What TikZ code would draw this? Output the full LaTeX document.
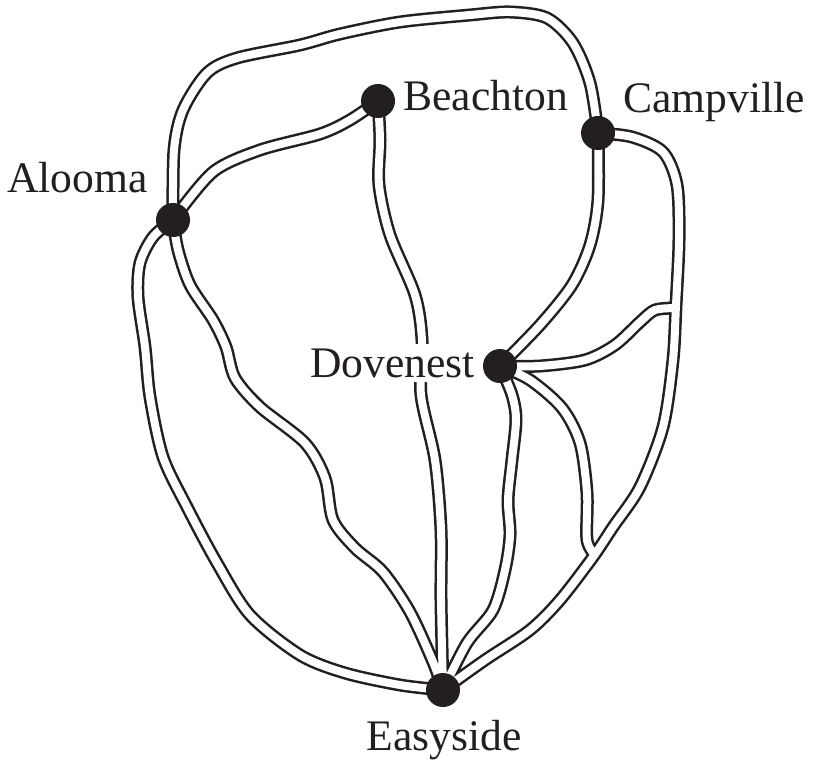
\documentclass[tikz,border=0pt]{standalone}
\usepackage{fontspec}
\setmainfont{Liberation Serif}
\usetikzlibrary{positioning}
\definecolor{ink}{HTML}{231F20}

\newcommand{\roadnet}{%
plot[smooth] coordinates {(alooma) (213,172) (260,150) (320,134) (350,120) (beachton)}
plot[smooth] coordinates {(alooma) (174,150) (183,110) (207,73) (237,58) (300,45) (340,34) (400,22) (470,15) (510,12) (547,18) (573,43) (590,83) (campville)}
plot[smooth] coordinates {(beachton) (380,140) (379,185) (390,235) (415,295) (422,340) (421,395) (435,460) (441,530) (441,600) (easyside)}
plot[smooth] coordinates {(campville) (598,200) (590,245) (572,285) (540,325) (dovenest)}
plot[smooth] coordinates {(campville) (632,137) (663,152) (677,185) (679,240) (676,305) (673,360) (663,427) (640,487) (613,527) (593,557) (560,600) (530,630) (485,660) (easyside)}
plot[smooth] coordinates {(676,308) (655,310) (640,322) (615,345) (585,360) (540,366) (dovenest)}
plot[smooth] coordinates {(dovenest) (530,380) (562,408) (580,443) (587,493) (587,540) (596,556)}
plot[smooth] coordinates {(dovenest) (512,395) (516,420) (512,460) (508,500) (510,535) (505,570) (493,610) (467,643) (easyside)}
plot[smooth] coordinates {(alooma) (178,250) (190,285) (213,320) (226,347) (235,378) (260,407) (305,443) (325,478) (333,520) (355,548) (383,572) (410,612) (433,662) (easyside)}
plot[smooth] coordinates {(alooma) (153,237) (140,263) (138,297) (145,347) (150,397) (163,457) (187,507) (217,563) (250,615) (300,655) (345,673) (400,685) (easyside)}
}

\begin{document}
\begin{tikzpicture}[x=0.025cm, y=-0.025cm,
  town node/.style={circle,fill=ink,minimum size=0.85cm,inner sep=0pt},
  road edge/.style={draw=ink,line width=0.325cm},
  road fill/.style={draw=white,line width=0.2cm},
  town label/.style={inner sep=0pt,text=ink,font=\fontsize{31}{36}\selectfont}]
\useasboundingbox (0,0) rectangle (814,762);
\coordinate (alooma) at (173,220);
\coordinate (beachton) at (378,101);
\coordinate (campville) at (598,133);
\coordinate (dovenest) at (500,366);
\coordinate (easyside) at (443,690);
% roads: dark edge first, then white inside
\draw[road edge] \roadnet;
\draw[road fill] \roadnet;
\begin{scope}[every node/.style={town node}]
\node (vA) at (alooma) {};
\node (vB) at (beachton) {};
\node (vC) at (campville) {};
\node (vD) at (dovenest) {};
\node (vE) at (easyside) {};
\end{scope}
\begin{scope}[every node/.style={town label}]
\node[anchor=base east] (lA) at (148,192) {Alooma};
\node[anchor=base west] (lB) at (403,110) {Beachton};
\node[anchor=base west] (lC) at (623,112) {Campville};
\node[anchor=base east,fill=white,inner ysep=3pt] (lD) at (475,377) {Dovenest};
\node[anchor=base] (lE) at (444,750) {Easyside};
\end{scope}
\end{tikzpicture}
\end{document}
